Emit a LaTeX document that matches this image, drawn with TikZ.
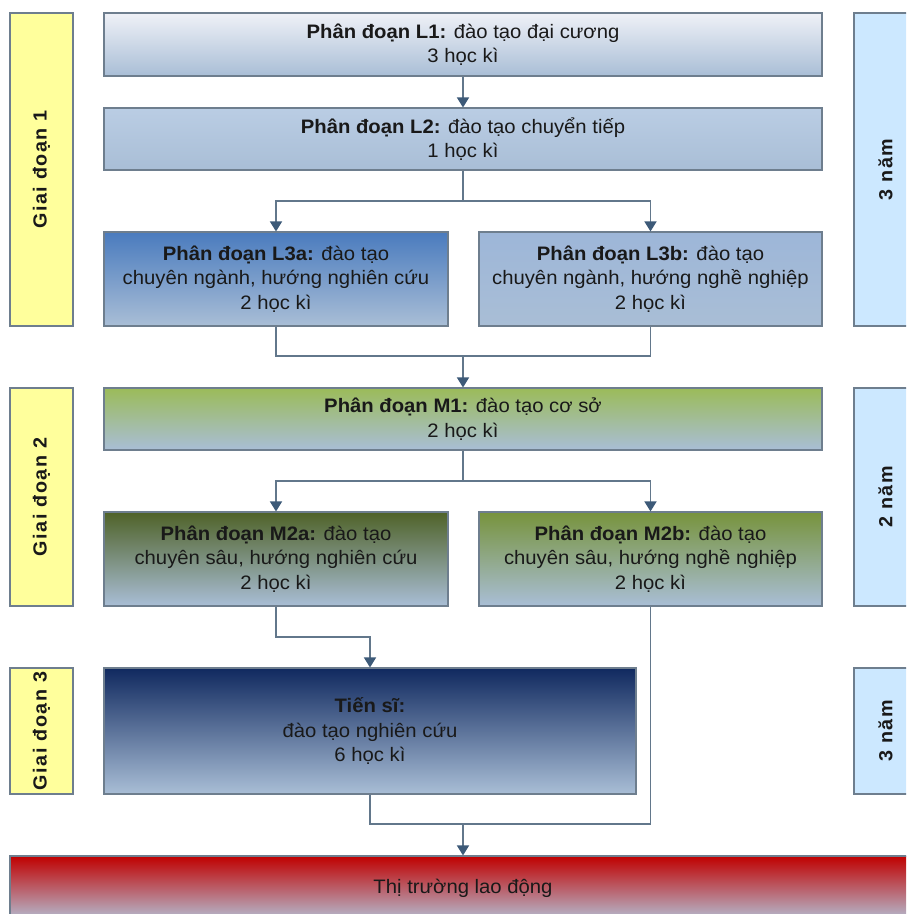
\documentclass[tikz,border=0pt]{standalone}
\usepackage{fontspec}
\setmainfont[FakeStretch=1.04]{Liberation Sans}
\usetikzlibrary{arrows.meta}
\definecolor{linec}{HTML}{62778B}
\definecolor{tipc}{HTML}{3D5A78}
\definecolor{borderc}{HTML}{6E7E8E}
\definecolor{sidey}{HTML}{FFFF9C}
\definecolor{sideb}{HTML}{CCE8FF}
\definecolor{botc}{HTML}{A9BED6}
\definecolor{cLone}{HTML}{EFF1F7}
\definecolor{cLtwo}{HTML}{BACDE4}
\definecolor{cLthra}{HTML}{4A7BBE}
\definecolor{cLthrb}{HTML}{9DB6D8}
\definecolor{cMone}{HTML}{9BBB59}
\definecolor{cMtwa}{HTML}{4F6228}
\definecolor{cMtwb}{HTML}{77933C}
\definecolor{cTs}{HTML}{10295F}
\definecolor{cMk}{HTML}{C00000}
\definecolor{cMkbot}{HTML}{B4BDD2}
\tikzset{
  stagebox/.style={draw=borderc, line width=1.1pt, inner sep=0pt, align=center,
    text=black!90, font=\fontsize{19.5}{24.5}\selectfont, shading=axis, bottom color=botc},
  sidebox/.style={draw=borderc, line width=1.1pt, inner sep=0pt, rotate=90,
    font=\bfseries\fontsize{19}{22}\selectfont\addfontfeatures{LetterSpace=8}, text=black!90},
  conn/.style={draw=linec, line width=1.5pt},
  arr/.style={conn, -{Triangle[width=12pt,length=10pt,color=tipc]}}
}
\begin{document}
\begin{tikzpicture}[x=1pt,y=-1pt]
\clip (0,0) rectangle (906,914);
\useasboundingbox (0,0) rectangle (906,914);
\fill[white] (0,0) rectangle (906,914);

% side labels
\node[sidebox, fill=sidey, minimum width=313pt, minimum height=63pt] (g1) at (41.5,169.5) {Giai đoạn 1};
\node[sidebox, fill=sidey, minimum width=218pt, minimum height=63pt] (g2) at (41.5,497) {Giai đoạn 2};
\node[sidebox, fill=sidey, minimum width=126pt, minimum height=63pt] (g3) at (41.5,731) {Giai đoạn 3};
\node[sidebox, fill=sideb, minimum width=313pt, minimum height=63pt] (y1) at (885.5,169.5) {3 năm};
\node[sidebox, fill=sideb, minimum width=218pt, minimum height=63pt] (y2) at (885.5,497) {2 năm};
\node[sidebox, fill=sideb, minimum width=126pt, minimum height=63pt] (y3) at (885.5,731) {3 năm};

% stage boxes
\node[stagebox, top color=cLone, minimum width=718pt, minimum height=63pt] (L1) at (463,44.5)
  {\textbf{Phân đoạn L1:} đào tạo đại cương\\3 học kì};
\node[stagebox, top color=cLtwo, minimum width=718pt, minimum height=62pt] (L2) at (463,139)
  {\textbf{Phân đoạn L2:} đào tạo chuyển tiếp\\1 học kì};
\node[stagebox, top color=cLthra, minimum width=344pt, minimum height=94pt] (L3a) at (276,279)
  {\textbf{Phân đoạn L3a:} đào tạo\\chuyên ngành, hướng nghiên cứu\\2 học kì};
\node[stagebox, top color=cLthrb, minimum width=343pt, minimum height=94pt] (L3b) at (650.5,279)
  {\textbf{Phân đoạn L3b:} đào tạo\\chuyên ngành, hướng nghề nghiệp\\2 học kì};
\node[stagebox, top color=cMone, minimum width=718pt, minimum height=62pt] (M1) at (463,419)
  {\textbf{Phân đoạn M1:} đào tạo cơ sở\\2 học kì};
\node[stagebox, top color=cMtwa, minimum width=344pt, minimum height=94pt] (M2a) at (276,559)
  {\textbf{Phân đoạn M2a:} đào tạo\\chuyên sâu, hướng nghiên cứu\\2 học kì};
\node[stagebox, top color=cMtwb, minimum width=343pt, minimum height=94pt] (M2b) at (650.5,559)
  {\textbf{Phân đoạn M2b:} đào tạo\\chuyên sâu, hướng nghề nghiệp\\2 học kì};
\node[stagebox, top color=cTs, minimum width=532pt, minimum height=126pt] (T) at (370,731)
  {\textbf{Tiến sĩ:}\\đào tạo nghiên cứu\\6 học kì};
\node[stagebox, top color=cMk, bottom color=cMkbot, minimum width=906pt, minimum height=64pt] (Mk) at (463,888)
  {Thị trường lao động};

% junction points
\coordinate (b1) at (463,201);
\coordinate (j1) at (463,356);
\coordinate (b2) at (463,481);
\coordinate (c1) at (370,637);
\coordinate (j2) at (463,824);

% connectors
\draw[arr] (L1.south) -- (L2.north);
\draw[conn] (L2.south) -- (b1);
\draw[arr] (b1) -| (L3a.north);
\draw[arr] (b1) -| (L3b.north);
\draw[conn] (L3a.south) |- (j1) -| (L3b.south);
\draw[arr] (j1) -- (M1.north);
\draw[conn] (M1.south) -- (b2);
\draw[arr] (b2) -| (M2a.north);
\draw[arr] (b2) -| (M2b.north);
\draw[arr] (M2a.south) |- (c1) -- (T.north);
\draw[conn] (T.south) |- (j2) -| (M2b.south);
\draw[arr] (j2) -- (Mk.north);
\end{tikzpicture}
\end{document}
